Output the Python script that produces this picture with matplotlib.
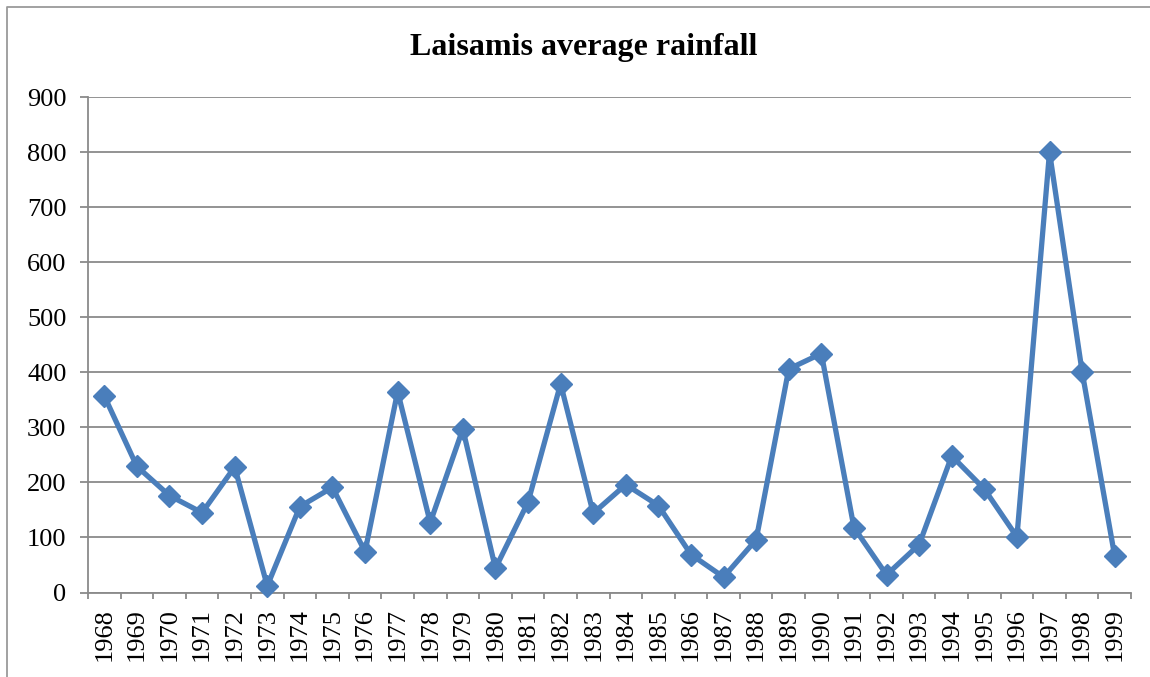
import matplotlib
matplotlib.use("Agg")
import matplotlib.pyplot as plt
from matplotlib.lines import Line2D
import numpy as np

years = [str(y) for y in range(1968, 2000)]
rainfall = [357, 229, 176, 145, 228, 12, 156, 191, 74, 365, 127, 297, 44, 164,
            379, 144, 196, 158, 69, 28, 96, 406, 434, 118, 32, 87, 248, 188,
            101, 800, 401, 66]
yticks = [0, 100, 200, 300, 400, 500, 600, 700, 800, 900]
title = "Laisamis average rainfall"

plt.rcParams['font.family'] = ['Liberation Serif', 'DejaVu Serif']

W, H = 1150, 677
fig = plt.figure(figsize=(W / 100, H / 100), dpi=100)
fig.patch.set_facecolor('white')

# outer chart border (left and top edges only)
fig.lines.append(Line2D([7 / W, 7 / W, 1.0], [0.0, 1 - 7 / H, 1 - 7 / H],
                        transform=fig.transFigure, color='#9a9a9a',
                        linewidth=1.3))

left, right = 88 / W, 1131 / W
bottom, top = 1 - 592.5 / H, 1 - 97 / H
ax = fig.add_axes([left, bottom, right - left, top - bottom])

x = np.arange(len(years))
ax.plot(x, rainfall, color='#4A7EBB', linewidth=3.8, marker='D',
        markersize=11.3, markerfacecolor='#4A7EBB', markeredgecolor='#4A7EBB',
        solid_joinstyle='round', zorder=3, clip_on=False)

ax.set_xlim(-0.5, len(years) - 0.5)
ax.set_ylim(0, 900)
ax.set_yticks(yticks)
ax.set_yticklabels([str(v) for v in yticks])
ax.set_xticks(x)
ax.set_xticklabels(years, rotation=90)
ax.set_xticks(np.arange(-0.5, len(years), 1.0), minor=True)

ax.grid(axis='y', color='#8a8a8a', linewidth=1.3)
ax.set_axisbelow(True)
for s in ['top', 'right']:
    ax.spines[s].set_visible(False)
for s in ['left', 'bottom']:
    ax.spines[s].set_color('#8a8a8a')
    ax.spines[s].set_linewidth(1.3)

ax.tick_params(axis='y', direction='out', length=5.5, width=1.3,
               color='#8a8a8a', pad=10, labelsize=19, labelcolor='black')
ax.tick_params(axis='x', which='major', length=0, pad=11, labelsize=19,
               labelcolor='black')
ax.tick_params(axis='x', which='minor', direction='out', length=4.5,
               width=1.3, color='#8a8a8a')

fig.text(584 / W, 1 - 48 / H, title, ha='center', va='center',
         fontsize=23, fontweight='bold')

fig.savefig('out.png', dpi=100)
